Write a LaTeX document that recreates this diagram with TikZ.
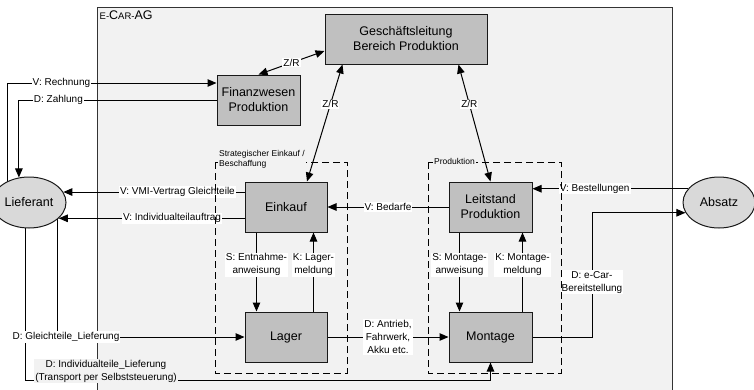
\documentclass[tikz,border=0pt]{standalone}
\usepackage{fontspec}
\setmainfont{Liberation Sans}
\usetikzlibrary{arrows.meta,calc,shapes.geometric}
\definecolor{framefill}{HTML}{F2F2F2}
\definecolor{boxfill}{HTML}{C0C0C0}
\definecolor{ellfill}{HTML}{D9D9D9}
\pgfdeclarelayer{bottom}
\pgfdeclarelayer{edges}
\pgfsetlayers{bottom,edges,main}

\begin{document}
\begin{tikzpicture}[x=1pt,y=-1pt,
  unit/.style={draw=black!90, fill=boxfill, line width=1pt, inner sep=0pt,
    align=center, font=\fontsize{12.5}{15}\selectfont},
  party/.style={ellipse, draw=black!90, fill=ellfill, line width=1pt,
    inner sep=0pt, font=\fontsize{12.5}{15}\selectfont},
  flow/.style={draw=black, line width=1pt, -{Triangle[length=9pt,width=7.5pt]}},
  both/.style={draw=black, line width=1pt,
    {Triangle[length=9pt,width=7.5pt]}-{Triangle[length=9pt,width=7.5pt]}},
  lbl/.style={fill=white, inner sep=1pt, font=\fontsize{10}{13}\selectfont, align=center},
  zone/.style={draw=black, line width=1pt, dash pattern=on 7pt off 4pt},
  zonelbl/.style={fill=framefill, inner sep=1pt, font=\fontsize{8.5}{9.5}\selectfont, align=left},
]
\useasboundingbox (0,0) rectangle (754,389);

% company frame
\begin{pgfonlayer}{bottom}
  \draw[draw=black!80, fill=framefill, line width=1pt] (97,7) rectangle (672,400);
  \node[anchor=west, inner sep=0pt] (company) at (99.5,15.5)
    {\fontsize{9.5}{10}\selectfont E-{\fontsize{12.5}{10}\selectfont C}AR-{\fontsize{12.5}{10}\selectfont AG}};
\end{pgfonlayer}

% organisational units
\node[unit, minimum width=162pt, minimum height=50pt] (gl) at (406,39) {Geschäftsleitung\\Bereich Produktion};
\node[unit, minimum width=83pt, minimum height=50pt] (fin) at (258.5,100) {Finanzwesen\\Produktion};
\node[unit, minimum width=82pt, minimum height=50pt] (eink) at (286,207) {Einkauf};
\node[unit, minimum width=82pt, minimum height=50pt] (lager) at (286,337) {Lager};
\node[unit, minimum width=83pt, minimum height=50pt] (leit) at (490.5,207) {Leitstand\\Produktion};
\node[unit, minimum width=83pt, minimum height=50pt] (mont) at (490.5,337) {Montage};

% external partners
\node[party, minimum width=74pt, minimum height=51pt] (lief) at (29,202.5) {Lieferant};
\node[party, minimum width=72pt, minimum height=51pt] (abs) at (719,202.5) {Absatz};

% departments
\draw[zone] (215,162) rectangle (347,373);
\draw[zone] (428,162) rectangle (561,373);
\node[zonelbl, anchor=north west] (zstrat) at (218,149.5) {Strategischer Einkauf /\\Beschaffung};
\node[zonelbl, anchor=west] (zprod) at (433,161) {Produktion};

\begin{pgfonlayer}{edges}
  % money and contracts with the supplier
  \draw[flow] ($(lief.center)+(-22,0)$) |- node[lbl,pos=0.63] (lrech) {V: Rechnung} (fin.west |- 0,83);
  \draw[flow] (fin.west) -| node[lbl,pos=0.40] (lzahl) {D: Zahlung} (lief.112);
  \draw[flow] (eink.west |- lief.17) -- node[lbl,pos=0.37] (lvmi) {V: VMI-Vertrag Gleichteile} (lief.17);
  \draw[flow] (eink.west |- lief.332) -- node[lbl,pos=0.39] (lindiv) {V: Individualteilauftrag} (lief.332);

  % internal orders
  \draw[flow] (leit.west) -- node[lbl] (lbed) {V: Bedarfe} (eink.east);
  \draw[flow] (abs.156) -- node[lbl,pos=0.6] (lbest) {V: Bestellungen} (leit.east |- abs.156);

  % goods flow
  \coordinate (ecx) at (592,0);
  \draw[flow] (mont.east) -| node[lbl,pos=0.72] (lecar) {D: e-Car-\\Bereitstellung} (ecx |- abs.197) -- (abs.197);
  \draw[flow] ($(lief.center)+(-4,0)$) |- node[lbl, fill=framefill, pos=0.587, yshift=9pt] (lindl)
    {D: Individualteile\_Lieferung\\(Transport per Selbststeuerung)} (mont.south |- 0,380) -- (mont.south);
  \draw[flow] ($(lief.center)+(28,0)$) |- node[lbl,pos=0.524] (lgleich) {D: Gleichteile\_Lieferung} (lager.west);
  \draw[flow] (lager.east) -- node[lbl] (lant) {D: Antrieb,\\Fahrwerk,\\Akku etc.} (mont.west);

  % management coordination
  \draw[both] (fin.north) -- node[lbl] (lzr1) {Z/R} (gl.west |- 0,51);
  \draw[both] ($(gl.south west)+(18,0)$) -- node[lbl,pos=0.34] (lzr2) {Z/R} (eink.north -| 307,0);
  \draw[both] ($(gl.south east)+(-29,0)$) -- node[lbl,pos=0.34] (lzr3) {Z/R} (leit.north);

  % control and feedback loops
  \draw[flow] ($(eink.south west)+(12,0)$) -- node[lbl,pos=0.41] (ls1) {S: Entnahme-\\anweisung} ($(lager.north west)+(12,0)$);
  \draw[flow] ($(lager.north east)+(-14,0)$) -- node[lbl,pos=0.59] (lk1) {K: Lager-\\meldung} ($(eink.south east)+(-14,0)$);
  \draw[flow] ($(leit.south west)+(11,0)$) -- node[lbl,pos=0.41] (ls2) {S: Montage-\\anweisung} ($(mont.north west)+(11,0)$);
  \draw[flow] ($(mont.north east)+(-10,0)$) -- node[lbl,pos=0.59] (lk2) {K: Montage-\\meldung} ($(leit.south east)+(-10,0)$);
\end{pgfonlayer}
\end{tikzpicture}
\end{document}
